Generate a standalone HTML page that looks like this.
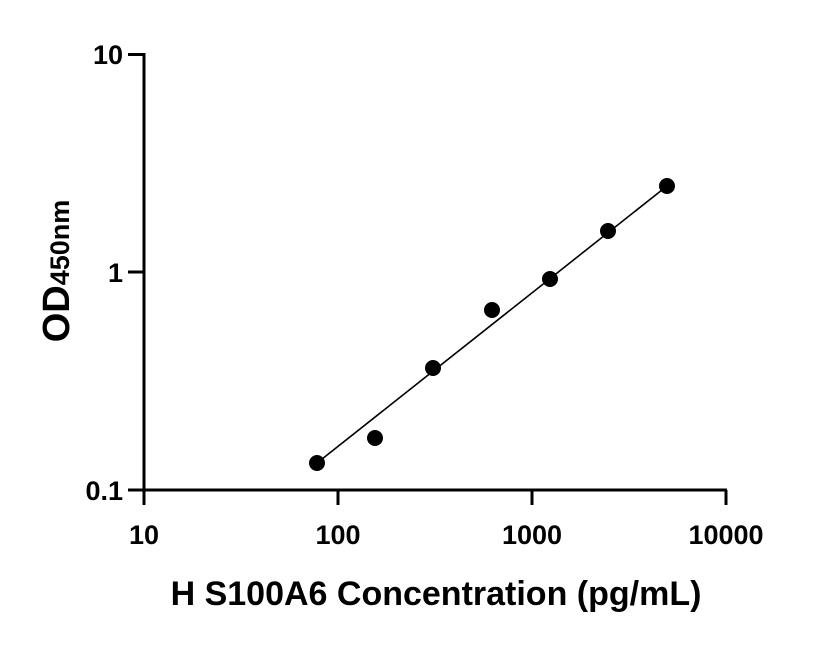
<!DOCTYPE html>
<html><head><meta charset="utf-8"><style>body{margin:0;background:#fff}</style></head><body>
<svg width="816" height="640" viewBox="0 0 816 640" xmlns="http://www.w3.org/2000/svg" font-family="Liberation Sans, sans-serif" font-weight="bold">
<g stroke="#000" stroke-width="3" fill="none">
<path d="M144 53 V491 M142.5 490 H727"/>
<path d="M128 54.5 H144 M128 272 H144 M128 490 H144"/>
<path d="M144 490 V505 M338 490 V505 M532 490 V505 M726 490 V505"/>
</g>
<line x1="317" y1="463" x2="667" y2="186" stroke="#000" stroke-width="1.6"/>
<g fill="#000">
<circle cx="317" cy="463" r="8"/><circle cx="375" cy="438" r="8"/><circle cx="433" cy="368" r="8"/><circle cx="492" cy="310" r="8"/><circle cx="550" cy="279" r="8"/><circle cx="608" cy="231" r="8"/><circle cx="667" cy="186" r="8"/>
</g>
<g font-size="27" text-anchor="end">
<text x="123" y="64">10</text><text x="123" y="282">1</text><text x="123" y="500">0.1</text>
</g>
<g font-size="27" text-anchor="middle">
<text x="144" y="544">10</text><text x="338" y="544">100</text><text x="532" y="544">1000</text><text x="726" y="544">10000</text>
</g>
<text x="436" y="605" font-size="34" text-anchor="middle">H S100A6 Concentration (pg/mL)</text>
<text transform="translate(69,271) rotate(-90)" text-anchor="middle" font-size="38">OD<tspan font-size="27">450nm</tspan></text>
</svg>
</body></html>
